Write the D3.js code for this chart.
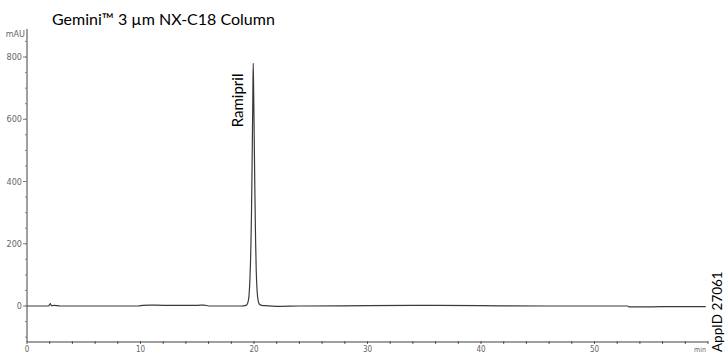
<!DOCTYPE html>
<html>
<head>
<meta charset="utf-8">
<script src="https://cdn.jsdelivr.net/npm/d3@7"></script>
<style>
  body { margin: 0; background: #fff; }
  svg { display: block; }
</style>
</head>
<body>
<div id="chart"></div>
<script>
// Chromatogram data (time in min, absorbance in mAU)
const times = [0, 1.9, 2.05, 2.15, 2.4, 2.7, 3, 9.8, 10.2, 10.8, 12, 15, 15.6, 16, 18.9,
  19.2, 19.35, 19.45, 19.55, 19.65, 19.72, 19.78, 19.84, 19.89, 19.93, 19.97, 20.02,
  20.08, 20.14, 20.2, 20.28, 20.38, 20.5, 20.7, 21, 22, 24, 30, 35, 40, 46, 52.9, 53.1,
  54, 56, 59.8];
const signal = [0, 0, 8, 1, 2, 1, 0, 0, 2, 3, 2, 2, 3, 0, 0,
  1, 3, 10, 30, 95, 180, 300, 480, 650, 780, 690, 540,
  360, 210, 110, 45, 15, 5, 2, 1, -1, 0, 1, 2, 1, 0, 0, -3,
  -3, -2, -2];

const xMajor = [0, 10, 20, 30, 40, 50];
const yMajor = [0, 200, 400, 600, 800];
const peaks = [{name: "Ramipril", t: 19.93, v: 780}];

const W = 725, H = 353;
const svg = d3.select("#chart").append("svg")
    .attr("width", W)
    .attr("height", H);

// Scales
const x = d3.scaleLinear().domain([0, 60]).range([27, 708]);
const y = d3.scaleLinear().domain([0, 800]).range([306, 57]);

const axisColor = "#808080";
const labelFont = "'Liberation Sans Narrow', 'DejaVu Sans Condensed', sans-serif";

// Y axis
const yAxis = svg.append("g").attr("transform", `translate(${x(0)},0)`);
yAxis.append("line")
    .attr("x1", 0).attr("x2", 0)
    .attr("y1", y(890)).attr("y2", y(-115))
    .attr("stroke", axisColor).attr("stroke-width", 1.5);
yAxis.selectAll(".minor")
    .data(d3.range(-100, 851, 50))
    .join("line")
    .attr("x1", -2).attr("x2", 0)
    .attr("y1", d => y(d)).attr("y2", d => y(d))
    .attr("stroke", axisColor);
yAxis.selectAll(".major")
    .data(yMajor)
    .join("line")
    .attr("x1", -4).attr("x2", 0)
    .attr("y1", d => y(d)).attr("y2", d => y(d))
    .attr("stroke", axisColor);
yAxis.selectAll("text")
    .data(yMajor)
    .join("text")
    .attr("x", -5)
    .attr("y", d => y(d) + 3)
    .attr("text-anchor", "end")
    .attr("font-family", labelFont)
    .attr("font-size", 9)
    .attr("fill", "#666")
    .text(d => d);
svg.append("text")
    .attr("x", 25).attr("y", 37)
    .attr("text-anchor", "end")
    .attr("font-family", labelFont)
    .attr("font-size", 9)
    .attr("fill", "#666")
    .text("mAU");

// X axis
const xAxis = svg.append("g").attr("transform", `translate(0,342)`);
xAxis.append("line")
    .attr("x1", x(0)).attr("x2", x(60))
    .attr("stroke", axisColor).attr("stroke-width", 1.5);
xAxis.selectAll(".minor")
    .data(d3.range(0, 61, 2))
    .join("line")
    .attr("x1", d => x(d)).attr("x2", d => x(d))
    .attr("y1", -1).attr("y2", 2)
    .attr("stroke", "#555");
xAxis.selectAll("text")
    .data(xMajor)
    .join("text")
    .attr("x", d => x(d))
    .attr("y", 10)
    .attr("text-anchor", "middle")
    .attr("font-family", labelFont)
    .attr("font-size", 8)
    .attr("fill", "#666")
    .text(d => d);
xAxis.append("text")
    .attr("x", 700).attr("y", 10)
    .attr("text-anchor", "middle")
    .attr("font-family", labelFont)
    .attr("font-size", 7)
    .attr("fill", "#666")
    .text("min");

// Trace
const pts = times.map((t, i) => ({t: t, v: signal[i]}));
svg.append("path")
    .datum(pts)
    .attr("fill", "none")
    .attr("stroke", "#3a3a3a")
    .attr("stroke-width", 1.2)
    .attr("d", d3.line()
        .x(d => x(d.t))
        .y(d => y(d.v))
        .curve(d3.curveMonotoneX));

// Peak labels
svg.selectAll(".peak")
    .data(peaks)
    .join("text")
    .attr("transform", d => `translate(${x(d.t) - 10},${y(d.v) + 64}) rotate(-90)`)
    .attr("font-family", "Lato, 'Open Sans', sans-serif")
    .attr("font-size", 15)
    .attr("fill", "#000")
    .text(d => d.name);

// Title
svg.append("text")
    .attr("x", 52).attr("y", 25)
    .attr("font-family", "Lato, 'Open Sans', sans-serif")
    .attr("font-size", 16)
    .attr("fill", "#000")
    .text("Gemini™ 3 µm NX-C18 Column");

// App ID
svg.append("text")
    .attr("transform", `translate(722,352) rotate(-90)`)
    .attr("font-family", "Lato, 'Open Sans', sans-serif")
    .attr("font-size", 13.5)
    .attr("fill", "#000")
    .text("AppID 27061");
</script>
</body>
</html>
